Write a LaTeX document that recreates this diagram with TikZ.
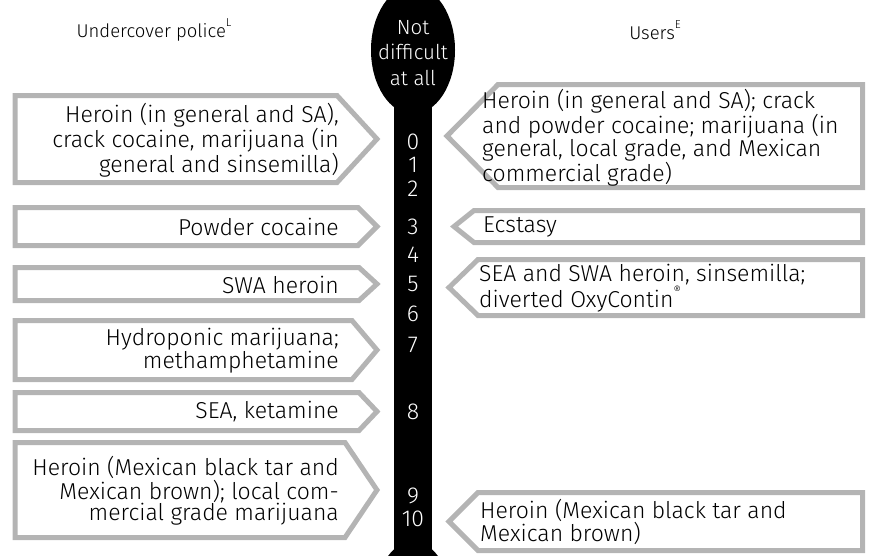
\documentclass[tikz,border=0pt]{standalone}
\usepackage{fontspec}
\setmainfont{Fira Sans Light}
\definecolor{boxgray}{HTML}{B4B4B4}
\newcommand{\supmark}[1]{\raisebox{1.1ex}{\fontsize{11.5}{11.5}\selectfont #1}}
\begin{document}
\begin{tikzpicture}[x=1pt,y=-1pt,
  arrowbox/.style={draw=boxgray, line width=5pt, fill=white, miter limit=10, line join=miter},
  lbl/.style={font=\fontsize{23}{21.5}\selectfont, text=black, inner sep=0pt},
  head/.style={font=\fontsize{18.5}{22}\selectfont, text=black, inner sep=0pt},
  num/.style={font=\fontsize{23}{22}\selectfont, text=white, inner sep=0pt},
  scalelbl/.style={font=\fontsize{20.5}{25.5}\selectfont, text=white, inner sep=0pt, align=center}]
\useasboundingbox (0,0) rectangle (869,555);
\clip (0,0) rectangle (869,555);

% headers
\node[head] (hpolice) at (154,30) {Undercover police\supmark{L}};
\node[head] (husers) at (655,30) {Users\supmark{E}};

% scale bar
\fill[black] (413,50) ellipse [x radius=42pt, y radius=64pt];
\fill[black] (394,60) rectangle (432,560);
\fill[black] (413,606) ellipse [x radius=39pt, y radius=65pt];
\node[scalelbl] (top) at (413,53) {Not\\difficult\\at all};

% left boxes
\draw[arrowbox] (15,95.5) -- (337,95.5) -- (377,139) -- (337,182.5) -- (15,182.5) -- cycle;
\draw[arrowbox] (15,207.5) -- (358,207.5) -- (377,226.5) -- (358,245.5) -- (15,245.5) -- cycle;
\draw[arrowbox] (15,267.5) -- (359,267.5) -- (377,284) -- (359,300.5) -- (15,300.5) -- cycle;
\draw[arrowbox] (15,320.5) -- (352,320.5) -- (377,350) -- (352,379.5) -- (15,379.5) -- cycle;
\draw[arrowbox] (15,392.5) -- (359,392.5) -- (377,411.5) -- (359,430.5) -- (15,430.5) -- cycle;
\draw[arrowbox] (15,442.5) -- (345,442.5) -- (377,490) -- (345,537.5) -- (15,537.5) -- cycle;

\node[lbl, anchor=east, align=right] (l1) at (339,140) {Heroin (in general and SA),\\crack cocaine, marijuana (in\\general and sinsemilla)};
\node[lbl, anchor=east, align=right] (l2) at (339,227) {Powder cocaine};
\node[lbl, anchor=east, align=right] (l3) at (339,284.5) {SWA heroin};
\node[lbl, anchor=east, align=right] (l4) at (339,350.5) {Hydroponic marijuana;\\methamphetamine};
\node[lbl, anchor=east, align=right] (l5) at (339,412) {SEA, ketamine};
\node[lbl, anchor=east, align=right] (l6) at (339,491) {Heroin (Mexican black tar and\\Mexican brown); local com-\\mercial grade marijuana};

% right boxes
\draw[arrowbox] (862.5,84.5) -- (498,84.5) -- (447,136) -- (498,187.5) -- (862.5,187.5) -- cycle;
\draw[arrowbox] (862.5,210.5) -- (474,210.5) -- (454,226.5) -- (474,242.5) -- (862.5,242.5) -- cycle;
\draw[arrowbox] (862.5,259.5) -- (478,259.5) -- (449,287.5) -- (478,315.5) -- (862.5,315.5) -- cycle;
\draw[arrowbox] (862.5,492.5) -- (478,492.5) -- (449,521.5) -- (478,550.5) -- (862.5,550.5) -- cycle;

\node[lbl, anchor=west, align=left] (r1) at (482,137.5) {Heroin (in general and SA); crack\\and powder cocaine; marijuana (in\\general, local grade, and Mexican\\commercial grade)};
\node[lbl, anchor=west, align=left] (r2) at (483,227) {Ecstasy};
\node[lbl, anchor=west, align=left] (r3) at (479,288) {SEA and SWA heroin, sinsemilla;\\diverted OxyContin\supmark{®}};
\node[lbl, anchor=west, align=left] (r4) at (480,522) {Heroin (Mexican black tar and\\Mexican brown)};

% scale numbers
\node[num] (n0) at (413,142) {0};
\node[num] (n1) at (413,165) {1};
\node[num] (n2) at (413,189) {2};
\node[num] (n3) at (413,227) {3};
\node[num] (n4) at (413,255) {4};
\node[num] (n5) at (413,284) {5};
\node[num] (n6) at (413,314) {6};
\node[num] (n7) at (413,345) {7};
\node[num] (n8) at (413,412) {8};
\node[num] (n9) at (413,496) {9};
\node[num] (n10) at (413,519) {10};
\end{tikzpicture}
\end{document}
